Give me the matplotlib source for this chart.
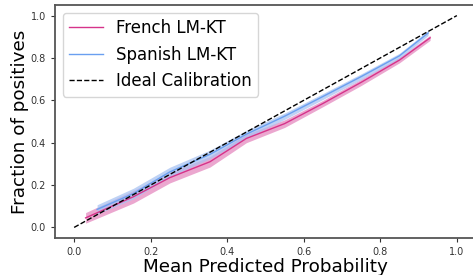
import matplotlib
matplotlib.use("Agg")
import matplotlib.pyplot as plt
import numpy as np

# Data
french_x = [0.03, 0.155, 0.25, 0.355, 0.45, 0.55, 0.65, 0.75, 0.85, 0.93]
french_y = [0.045, 0.145, 0.235, 0.31, 0.42, 0.49, 0.585, 0.685, 0.79, 0.895]
french_err = [0.025, 0.03, 0.025, 0.025, 0.02, 0.018, 0.015, 0.015, 0.013, 0.012]

spanish_x = [0.06, 0.155, 0.25, 0.355, 0.45, 0.55, 0.65, 0.75, 0.85, 0.925]
spanish_y = [0.085, 0.16, 0.262, 0.345, 0.44, 0.525, 0.618, 0.712, 0.81, 0.918]
spanish_err = [0.022, 0.025, 0.022, 0.02, 0.018, 0.015, 0.014, 0.013, 0.012, 0.012]

ideal_x = [0.0, 1.0]
ideal_y = [0.0, 1.0]

xticks = [0.0, 0.2, 0.4, 0.6, 0.8, 1.0]
yticks = [0.0, 0.2, 0.4, 0.6, 0.8, 1.0]

fr_color = "#d6338a"
fr_band = "#e58ac0"
sp_color = "#6a9ff0"
sp_band = "#a9c3f2"

fig = plt.figure(figsize=(4.73, 2.75), dpi=100)
ax = fig.add_axes([55/473, 37/275, 421/473, 233/275])

fx = np.array(french_x); fy = np.array(french_y); fe = np.array(french_err)
sx = np.array(spanish_x); sy = np.array(spanish_y); se = np.array(spanish_err)

ax.fill_between(fx, fy - fe, fy + fe, color=fr_band, alpha=0.75, lw=0)
ax.fill_between(sx, sy - se, sy + se, color=sp_band, alpha=0.75, lw=0)
ax.plot(fx, fy, color=fr_color, lw=1.0, label="French LM-KT")
ax.plot(sx, sy, color=sp_color, lw=1.0, label="Spanish LM-KT")
ax.plot(ideal_x, ideal_y, color="black", ls="--", lw=1.0, label="Ideal Calibration")

ax.set_xlim(-0.05, 1.05)
ax.set_ylim(-0.05, 1.05)
ax.set_xticks(xticks)
ax.set_yticks(yticks)
ax.tick_params(labelsize=7, length=3, width=0.8, colors="#333333")
for s in ax.spines.values():
    s.set_color("#555555")
    s.set_linewidth(1.3)

ax.set_xlabel("Mean Predicted Probability", fontsize=13.2, labelpad=1)
ax.set_ylabel("Fraction of positives", fontsize=13.2, labelpad=1)

leg = ax.legend(loc="upper left", fontsize=12, frameon=True, borderaxespad=0.45)
leg.get_frame().set_edgecolor("#cccccc")

fig.savefig("out.png", dpi=100)
